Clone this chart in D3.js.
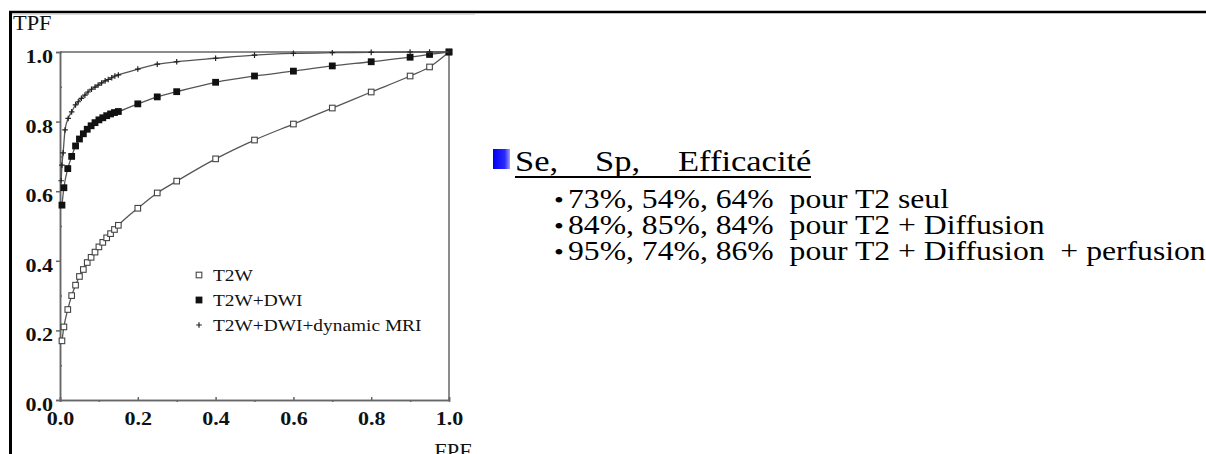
<!DOCTYPE html>
<html>
<head>
<meta charset="utf-8">
<title>ROC T2W / DWI / dynamic MRI</title>
<script src="https://cdn.jsdelivr.net/npm/d3@7/dist/d3.min.js"></script>
<style>
  html, body { margin: 0; padding: 0; background: #fff; overflow: hidden; }
</style>
</head>
<body>
<div id="chart"></div>
<script>
// ---- data ----
const t2wFpf = [0.005, 0.01, 0.02, 0.03, 0.04, 0.05, 0.06, 0.07, 0.08, 0.09, 0.10, 0.11, 0.12, 0.13, 0.14, 0.15, 0.20, 0.25, 0.30, 0.40, 0.50, 0.60, 0.70, 0.80, 0.90, 0.95, 1.0];
const t2wTpf = [0.17, 0.21, 0.26, 0.30, 0.33, 0.355, 0.375, 0.395, 0.41, 0.425, 0.44, 0.453, 0.466, 0.478, 0.49, 0.502, 0.551, 0.595, 0.629, 0.693, 0.747, 0.793, 0.839, 0.885, 0.931, 0.957, 1.0];

const dwiFpf = [0.005, 0.01, 0.02, 0.03, 0.04, 0.05, 0.06, 0.07, 0.08, 0.09, 0.10, 0.11, 0.12, 0.13, 0.14, 0.15, 0.20, 0.25, 0.30, 0.40, 0.50, 0.60, 0.70, 0.80, 0.90, 0.95, 1.0];
const dwiTpf = [0.56, 0.61, 0.665, 0.70, 0.73, 0.75, 0.765, 0.778, 0.788, 0.797, 0.805, 0.811, 0.817, 0.822, 0.826, 0.829, 0.851, 0.871, 0.886, 0.913, 0.931, 0.945, 0.960, 0.972, 0.985, 0.993, 1.0];

const dynFpf = [0.003, 0.005, 0.008, 0.013, 0.021, 0.03, 0.04, 0.047, 0.055, 0.064, 0.072, 0.081, 0.09, 0.098, 0.107, 0.116, 0.124, 0.133, 0.141, 0.15, 0.20, 0.25, 0.30, 0.40, 0.50, 0.60, 0.70, 0.80, 0.90, 0.95, 1.0];
const dynTpf = [0.63, 0.675, 0.71, 0.776, 0.809, 0.828, 0.848, 0.857, 0.867, 0.876, 0.885, 0.893, 0.899, 0.905, 0.911, 0.917, 0.921, 0.926, 0.931, 0.934, 0.951, 0.965, 0.972, 0.982, 0.991, 0.996, 0.998, 0.999, 1.0, 1.0, 1.0];

const majorTicks = [0, 0.2, 0.4, 0.6, 0.8, 1.0];
const minorTicks = [0.1, 0.3, 0.5, 0.7, 0.9];
const legendLabels = ["T2W", "T2W+DWI", "T2W+DWI+dynamic MRI"];

const headingWords = ["Se,", "Sp,", "Efficacité"];
const bulletLines = [
  "73%, 54%, 64%  pour T2 seul",
  "84%, 85%, 84%  pour T2 + Diffusion",
  "95%, 74%, 86%  pour T2 + Diffusion  + perfusion"
];

// ---- layout ----
const W = 1206, H = 454;
const SERIF = "'Liberation Serif'";
const svg = d3.select("#chart").append("svg")
  .attr("width", W).attr("height", H);

const x = d3.scaleLinear().domain([0, 1]).range([60, 449]);
const y = d3.scaleLinear().domain([0, 1]).range([400, 52]);

// the slide picture is a bit wider than tall, so text gets a horizontal stretch
function label(g, tx, ty, str, size, sx, anchor) {
  return g.append("text")
    .attr("transform", `translate(${tx},${ty}) scale(${sx},1)`)
    .attr("text-anchor", anchor || "start")
    .attr("font-family", SERIF)
    .style("font-family", SERIF)
    .style("font-size", size + "px")
    .attr("xml:space", "preserve")
    .attr("fill", "#000")
    .text(str);
}

// slide frame
svg.append("line").attr("x1", 9).attr("x2", W).attr("y1", 12).attr("y2", 12)
  .attr("stroke", "#000").attr("stroke-width", 2.5);
svg.append("line").attr("x1", 10.5).attr("x2", 10.5).attr("y1", 11).attr("y2", H)
  .attr("stroke", "#000").attr("stroke-width", 3);
svg.append("line").attr("x1", 12).attr("x2", 475).attr("y1", 14.5).attr("y2", 14.5)
  .attr("stroke", "#ddd").attr("stroke-width", 1);

const axisColor = "#666";
const plot = svg.append("g");

// box
plot.append("line").attr("x1", x(0)).attr("x2", x(1)).attr("y1", y(1)).attr("y2", y(1))
  .attr("stroke", axisColor).attr("stroke-width", 1.5);
plot.append("line").attr("x1", x(1)).attr("x2", x(1)).attr("y1", y(1)).attr("y2", y(0))
  .attr("stroke", axisColor).attr("stroke-width", 1.5);

// x axis
const xAxis = plot.append("g").attr("transform", `translate(0,${y(0)})`)
  .call(d3.axisBottom(x).tickValues(majorTicks).tickFormat(d3.format(".1f")).tickSize(-3).tickPadding(12));
xAxis.append("g").call(d3.axisBottom(x).tickValues(minorTicks).tickFormat("").tickSize(2));

// y axis
const yAxis = plot.append("g").attr("transform", `translate(${x(0)},0)`)
  .call(d3.axisLeft(y).tickValues(majorTicks).tickFormat(d3.format(".1f")).tickSize(4).tickPadding(2));
yAxis.append("g").call(d3.axisLeft(y).tickValues(minorTicks).tickFormat("").tickSize(-2));

[xAxis, yAxis].forEach(a => {
  a.attr("font-family", SERIF);
  a.selectAll(".domain").attr("stroke", axisColor).attr("stroke-width", 1.5);
  a.selectAll(".tick line").attr("stroke", axisColor).attr("stroke-width", 1.5);
  a.selectAll(".tick text")
    .attr("font-family", SERIF)
    .style("font-family", SERIF)
    .style("font-size", "19px").style("font-weight", "bold").attr("fill", "#111")
    .attr("transform", "scale(1.16,1)");
});
yAxis.selectAll(".tick text").attr("dy", "0.55em");

label(plot, 13, 30, "TPF", 20, 1.12).attr("fill", "#111");
label(plot, 453, 458, "FPF", 20, 1.12, "middle").attr("fill", "#111");

// curves
const series = [
  { fpf: t2wFpf, tpf: t2wTpf, marker: "open" },
  { fpf: dwiFpf, tpf: dwiTpf, marker: "filled" },
  { fpf: dynFpf, tpf: dynTpf, marker: "plus" }
];

const line = d3.line().x(d => x(d[0])).y(d => y(d[1])).curve(d3.curveMonotoneX);

function drawMarker(g, type, cx, cy) {
  if (type === "open") {
    g.append("rect").attr("x", cx - 2.8).attr("y", cy - 2.8).attr("width", 5.6).attr("height", 5.6)
      .attr("fill", "#fff").attr("stroke", "#444").attr("stroke-width", 1.1);
  } else if (type === "filled") {
    g.append("rect").attr("x", cx - 3.4).attr("y", cy - 3.4).attr("width", 6.8).attr("height", 6.8)
      .attr("fill", "#111");
  } else {
    g.append("path").attr("d", `M${cx - 2.8},${cy}H${cx + 2.8}M${cx},${cy - 2.8}V${cy + 2.8}`)
      .attr("stroke", "#222").attr("stroke-width", 1.2).attr("fill", "none");
  }
}

series.forEach(s => {
  const pts = s.fpf.map((f, i) => [f, s.tpf[i]]);
  plot.append("path").datum(pts).attr("d", line)
    .attr("fill", "none").attr("stroke", "#555").attr("stroke-width", 1.3);
  const mg = plot.append("g");
  pts.forEach(p => drawMarker(mg, s.marker, x(p[0]), y(p[1])));
});

// legend
const legend = plot.append("g");
legendLabels.forEach((lab, i) => {
  const ly = 275 + i * 25;
  drawMarker(legend, series[i].marker, 199, ly);
  label(legend, 213, ly + 6, lab, 17, 1.14).attr("fill", "#111");
});

// right-hand text
const grad = svg.append("defs").append("linearGradient").attr("id", "bulletGrad")
  .attr("x1", "0%").attr("x2", "100%");
grad.append("stop").attr("offset", "0%").attr("stop-color", "#0000f0");
grad.append("stop").attr("offset", "70%").attr("stop-color", "#2a2aff");
grad.append("stop").attr("offset", "100%").attr("stop-color", "#a0a0ff");

const txt = svg.append("g");
txt.append("rect").attr("x", 493).attr("y", 149).attr("width", 17).attr("height", 20)
  .attr("fill", "url(#bulletGrad)");
const headX = [515, 595, 678];
headingWords.forEach((w, i) => label(txt, headX[i], 171, w, 30, 1.15));
txt.append("line").attr("x1", 515).attr("x2", 811).attr("y1", 177).attr("y2", 177)
  .attr("stroke", "#000").attr("stroke-width", 2);

bulletLines.forEach((l, i) => {
  const by = 208 + i * 26;
  label(txt, 554, by, "•", 24, 1.17);
  label(txt, 568, by, l, 26.5, 1.195);
});
</script>
</body>
</html>
